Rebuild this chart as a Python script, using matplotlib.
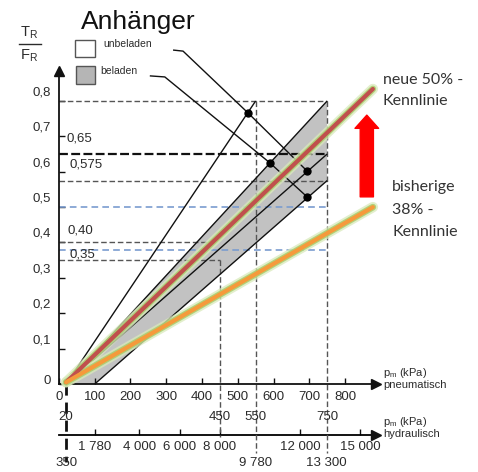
import matplotlib
matplotlib.use("Agg")
import matplotlib.pyplot as plt
import matplotlib.transforms as mtransforms
from matplotlib.patches import Polygon, Rectangle
import numpy as np

# ---------------- data ----------------
y_ticks = [0, 0.1, 0.2, 0.3, 0.4, 0.5, 0.6, 0.7, 0.8]
y_ticklabels = ["0", "0,1", "0,2", "0,3", "0,4", "0,5", "0,6", "0,7", "0,8"]
x_ticks = [0, 100, 200, 300, 400, 500, 600, 700, 800]
x_ticklabels = ["0", "100", "200", "300", "400", "500", "600", "700", "800"]
x_marks = [20, 450, 550, 750]
x_mark_labels = ["20", "450", "550", "750"]
hyd_ticks = [1780, 4000, 6000, 8000, 12000, 15000]
hyd_ticklabels = ["1 780", "4 000", "6 000", "8 000", "12 000", "15 000"]
hyd_marks = [350, 9780, 13300]
hyd_mark_labels = ["350", "9 780", "13 300"]

level_top = 0.8
level_mid = 0.65
level_low = 0.575
level_040 = 0.40
level_035 = 0.35
level_labels = ["0,65", "0,575", "0,40", "0,35"]
blue_levels = [0.50, 0.38]

unladen_p = [20, 550]
unladen_r = [0.0, 0.8]
band_upper_p = [20, 750]
band_upper_r = [0.0, 0.8]
band_mid_p = [20, 750]
band_mid_r = [0.0, 0.65]
band_lower_p = [100, 750]
band_lower_r = [0.0, 0.575]
new_line_p = [20, 878]
new_line_r = [0.005, 0.834]
old_line_p = [20, 878]
old_line_r = [0.005, 0.50]
dots_p = [528, 590, 695, 695]
dots_r = [0.767, 0.625, 0.601, 0.528]
leader_unb_p = [319, 347, 528, 695]
leader_unb_r = [0.944, 0.941, 0.767, 0.601]
leader_bel_p = [254, 296, 590, 695]
leader_bel_r = [0.871, 0.868, 0.625, 0.528]
arrow_p = 861
arrow_r = [0.529, 0.760]

# ---------------- figure ----------------
W, H = 478, 472
plt.rcParams["font.family"] = ["Liberation Sans", "DejaVu Sans"]
plt.rcParams["mathtext.fontset"] = "custom"
plt.rcParams["mathtext.rm"] = "Liberation Sans"
plt.rcParams["mathtext.it"] = "Liberation Sans:italic"
TXT = "#2b2b2b"

fig = plt.figure(figsize=(W / 100, H / 100), dpi=100)
ax = fig.add_axes([0, 0, 1, 1])
ax.set_xlim(-165.0, 1172.0)
ax.set_ylim(-0.2488, 1.0855)
ax.patch.set_alpha(0)

def fx(px):
    return px / W

def fy(py):
    return 1 - py / H

def p2h(p):
    return 350 + 17.8 * (np.asarray(p, dtype=float) - 20)

def h2p(h):
    return 20 + (np.asarray(h, dtype=float) - 350) / 17.8

# spines
for s in ["top", "right"]:
    ax.spines[s].set_visible(False)
ax.spines["left"].set_position(("data", 0))
ax.spines["bottom"].set_position(("data", 0))
ax.spines["left"].set_bounds(0, 0.885)
ax.spines["bottom"].set_bounds(0, 885)
for s in ["left", "bottom"]:
    ax.spines[s].set_linewidth(1.3)
    ax.spines[s].set_color("#111111")
ax.plot([0], [0.885], marker="^", ms=7, color="#111111", clip_on=False, zorder=8)
ax.plot([887], [0], marker=">", ms=7, color="#111111", clip_on=False, zorder=8)

ax.tick_params(axis="both", direction="in", length=4, width=1, colors="#111111",
               labelsize=9.5, labelcolor=TXT)
ax.tick_params(axis="y", pad=6)
ax.tick_params(axis="x", pad=5)
ax.set_yticks(y_ticks, labels=y_ticklabels)
ax.set_xticks(x_ticks, labels=x_ticklabels)
for i, t in enumerate(ax.yaxis.get_major_ticks()):
    dy = 4 if i == 0 else 10
    t.label1.set_transform(t.label1.get_transform() +
                           mtransforms.ScaledTranslation(0, dy / 100, fig.dpi_scale_trans))

# hydraulic axis
hyd_y = -0.1442
sec = ax.secondary_xaxis(hyd_y, functions=(p2h, h2p), transform=ax.transData)
sec.set_xticks(hyd_ticks, labels=hyd_ticklabels)
sec.tick_params(direction="in", length=4, width=1, pad=4, labelsize=9.5,
                labelcolor=TXT, colors="#111111")
sec.spines["bottom"].set_bounds(float(p2h(0)), float(p2h(885)))
sec.spines["bottom"].set_linewidth(1.3)
ax.plot([887], [hyd_y], marker=">", ms=7, color="#111111", clip_on=False, zorder=8)

# band
band = Polygon([(band_upper_p[0], band_upper_r[0]), (band_upper_p[1], band_upper_r[1]),
                (band_lower_p[1], band_lower_r[1]), (band_lower_p[0], band_lower_r[0])],
               closed=True, facecolor="#c2c2c2", edgecolor="none", zorder=1)
ax.add_patch(band)

# horizontal dashed lines
gd = dict(color="#555555", lw=1.0, dashes=(4, 2), zorder=2)
ax.plot([0, 750], [level_top, level_top], **gd)
ax.plot([0, 750], [level_low, level_low], **gd)
ax.plot([0, 410], [level_040, level_040], **gd)
ax.plot([0, 450], [level_035, level_035], **gd)
ax.plot([0, 750], [level_mid, level_mid], color="#111111", lw=1.6, dashes=(4, 1.5), zorder=2)
for b in blue_levels:
    ax.plot([0, 750], [b, b], color="#7a9ccf", lw=1.2, dashes=(4, 2.5), zorder=2)

# vertical dashed lines
ax.plot([450, 450], [level_035, -0.15], **gd)
ax.plot([550, 550], [level_top, -0.195], **gd)
ax.plot([750, 750], [level_top, -0.195], **gd)
ax.plot([20, 20], [0, -0.22], color="#111111", lw=2.0, dashes=(4, 2.5), zorder=3, clip_on=False)

# level labels
for lev, lab, dxy in zip([level_mid, level_low, level_040, level_035], level_labels,
                         [(8, 16), (11, 16), (9, 12), (11, 6)]):
    ax.annotate(lab, xy=(0, lev), xytext=dxy, textcoords="offset pixels",
                ha="left", va="center", fontsize=9.5, color=TXT)

# second row of pneumatic labels
for p, lab in zip(x_marks, x_mark_labels):
    ax.annotate(lab, xy=(p, 0), xytext=(0, -33), textcoords="offset pixels",
                ha="center", va="center", fontsize=9.5, color=TXT)
for h, lab in zip(hyd_marks, hyd_mark_labels):
    ax.annotate(lab, xy=(float(h2p(h)), hyd_y), xytext=(0, -28), textcoords="offset pixels",
                ha="center", va="center", fontsize=9.5, color=TXT)

# black lines
bl = dict(color="#111111", lw=1.0, zorder=3, solid_capstyle="butt")
ax.plot(unladen_p, unladen_r, **bl)
ax.plot(band_upper_p, band_upper_r, **bl)
ax.plot(band_mid_p, band_mid_r, **bl)
ax.plot(band_lower_p, band_lower_r, **bl)
ax.plot(leader_unb_p, leader_unb_r, clip_on=False, **bl)
ax.plot(leader_bel_p, leader_bel_r, clip_on=False, **bl)
ax.plot(dots_p, dots_r, "o", ms=5, color="#000000", zorder=6)

# coloured characteristic lines with glow
for pp, rr, col in [(new_line_p, new_line_r, "#c0504d"), (old_line_p, old_line_r, "#f59a3c")]:
    ax.plot(pp, rr, color="#d9eabb", lw=7.5, alpha=0.75, zorder=4, solid_capstyle="round")
    ax.plot(pp, rr, color="#a8cd6b", lw=4.8, alpha=0.85, zorder=4, solid_capstyle="round")
    ax.plot(pp, rr, color=col, lw=3.0, zorder=5, solid_capstyle="round")

# red arrow
ax.annotate("", xy=(arrow_p, arrow_r[1]), xytext=(arrow_p, arrow_r[0]),
            arrowprops=dict(arrowstyle="simple,head_length=0.95,head_width=1.7,tail_width=0.95",
                            color="#ff0000", mutation_scale=10, shrinkA=0, shrinkB=0),
            zorder=6)

# axis captions
fig.text(fx(383), fy(373), "p$_\\mathregular{m}$ (kPa)", fontsize=8, color=TXT, ha="left", va="center")
fig.text(fx(383), fy(385), "pneumatisch", fontsize=8, color=TXT, ha="left", va="center")
fig.text(fx(383), fy(422), "p$_\\mathregular{m}$ (kPa)", fontsize=8, color=TXT, ha="left", va="center")
fig.text(fx(383), fy(434), "hydraulisch", fontsize=8, color=TXT, ha="left", va="center")

# y axis quantity
fig.text(fx(29), fy(33), "T$_\\mathregular{R}$", fontsize=10.5, color=TXT, ha="center", va="center")
fig.text(fx(29), fy(56), "F$_\\mathregular{R}$", fontsize=10.5, color=TXT, ha="center", va="center")
fig.add_artist(plt.Line2D([fx(19), fx(41)], [fy(44), fy(44)], color=TXT, lw=1.0))

# title
fig.text(fx(81), fy(22), "Anhänger", fontsize=19, color="#111111", ha="left", va="center")

# legend
fig.add_artist(Rectangle((fx(75), fy(57)), fx(20), 17 / H, facecolor="white",
                         edgecolor="#555555", lw=1.0))
fig.add_artist(Rectangle((fx(76), fy(84)), fx(19), 18 / H, facecolor="#b5b5b5",
                         edgecolor="#555555", lw=1.0))
fig.text(fx(103), fy(44), "unbeladen", fontsize=7.5, color=TXT, ha="left", va="center")
fig.text(fx(100), fy(71), "beladen", fontsize=7.5, color=TXT, ha="left", va="center")

# right-hand annotations
rt = dict(fontsize=11.5, color="#333333", ha="left", va="center", family=["Lato", "DejaVu Sans"])
fig.text(fx(383), fy(80), "neue 50% -", **rt)
fig.text(fx(383), fy(101), "Kennlinie", **rt)
fig.text(fx(392), fy(187), "bisherige", **rt)
fig.text(fx(392), fy(210), "38% -", **rt)
fig.text(fx(392), fy(232), "Kennlinie", **rt)

fig.savefig("out.png", dpi=100)
